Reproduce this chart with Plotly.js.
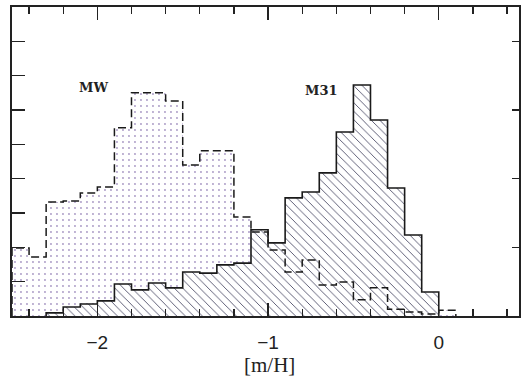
<!DOCTYPE html>
<html>
<head>
<meta charset="utf-8">
<script src="https://cdn.plot.ly/plotly-3.0.1.min.js"></script>
<style>html,body{margin:0;padding:0;background:#fff;}#chart{width:521px;height:381px;}</style>
</head>
<body>
<div id="chart"></div>
<script>
// MW metallicity histogram: bin left edges and counts (arbitrary units)
const mwBins = [-2.5,-2.4,-2.3,-2.2,-2.1,-2.0,-1.9,-1.8,-1.7,-1.6,-1.5,-1.4,-1.3,-1.2,-1.1,-1.0,-0.9,-0.8,-0.7,-0.6,-0.5,-0.4,-0.3,-0.2,-0.1,0.0];
const mwCounts = [19.8,17.2,33.2,33.5,35.8,37.6,54.8,65.0,65.0,62.6,44.0,48.1,48.1,28.8,24.5,19.2,12.8,16.3,9.0,9.9,4.7,8.2,2.0,1.2,0.6,1.7];
// M31 histogram
const m31Bins = [-2.3,-2.2,-2.1,-2.0,-1.9,-1.8,-1.7,-1.6,-1.5,-1.4,-1.3,-1.2,-1.1,-1.0,-0.9,-0.8,-0.7,-0.6,-0.5,-0.4,-0.3,-0.2,-0.1];
const m31Counts = [0.9,2.6,3.5,4.4,9.3,7.6,9.6,8.2,12.8,12.5,14.9,15.4,25.1,21.3,34.4,36.1,41.7,53.6,67.3,57.1,37.3,23.6,7.0];
const binWidth = 0.1;
const tickVals = [-2,-1,0];
const labels = {mw: 'MW', m31: 'M31', xTitle: '[m/H]'};

function steps(bins, counts){
  const x = [bins[0]], y = [0];
  for (let i=0;i<bins.length;i++){ x.push(bins[i]); y.push(counts[i]); }
  const end = +(bins[bins.length-1]+binWidth).toFixed(2);
  x.push(end); y.push(counts[counts.length-1]);
  x.push(end); y.push(0);
  return {x, y};
}
const mw = steps(mwBins, mwCounts);
const m31 = steps(m31Bins, m31Counts);

const traces = [
  {x: mw.x, y: mw.y, type:'scatter', mode:'lines', line:{shape:'hv', width:0, color:'rgba(0,0,0,0)'},
   fill:'tozeroy', fillcolor:'rgba(0,0,0,0)',
   fillpattern:{shape:'.', size:6, solidity:0.08, fgcolor:'#a898c4', bgcolor:'rgba(255,255,255,0)'}, hoverinfo:'skip'},
  {x: m31.x, y: m31.y, type:'scatter', mode:'lines', line:{shape:'hv', width:1.6, color:'#1a1a1a'},
   fill:'tozeroy', fillcolor:'white',
   fillpattern:{shape:'\\', size:6, solidity:0.15, fgcolor:'#50506a', bgcolor:'white'}},
  {x: mw.x, y: mw.y, type:'scatter', mode:'lines', line:{shape:'hv', width:1.5, color:'#1a1a1a', dash:'8px,4px'}},
  {x: [], y: [], yaxis:'y2', type:'scatter', mode:'lines'}
];

const layout = {
  width:521, height:381,
  margin:{l:12, r:2, t:7, b:65},
  paper_bgcolor:'white', plot_bgcolor:'white',
  showlegend:false,
  xaxis:{range:[-2.5,0.47], tickvals:tickVals, ticks:'inside', ticklen:13, tickwidth:1.3, tickcolor:'#222',
         minor:{dtick:0.2, tick0:0, ticks:'inside', ticklen:7, tickwidth:1.2, tickcolor:'#222'},
         showline:true, linecolor:'#222', linewidth:2, mirror:'ticks', showgrid:false, zeroline:false,
         ticklabelstandoff:8,
         tickfont:{family:'Liberation Sans, Arial, sans-serif', size:19, color:'#222'}},
  yaxis:{range:[0,90], dtick:10, ticks:'inside', ticklen:13, tickwidth:1.3, tickcolor:'#222',
         showticklabels:false, showline:true, linecolor:'#222', linewidth:2, mirror:true,
         showgrid:false, zeroline:false},
  yaxis2:{range:[0,90], dtick:20, overlaying:'y', side:'right', ticks:'inside', ticklen:7, tickwidth:1.3,
          tickcolor:'#222', showticklabels:false, showgrid:false, zeroline:false, showline:false},
  annotations:[
    {x:-2.02, y:66.7, text:'<b>'+labels.mw+'</b>', showarrow:false, font:{family:'DejaVu Serif, serif', size:13, color:'#222'}},
    {x:-0.69, y:65.8, text:'<b>'+labels.m31+'</b>', showarrow:false, font:{family:'DejaVu Serif, serif', size:13, color:'#222'}},
    {x:-0.99, xref:'x', y:-0.158, yref:'paper', yanchor:'middle', text:labels.xTitle, showarrow:false,
     font:{family:'Liberation Serif, serif', size:21, color:'#222'}}
  ]
};
Plotly.newPlot('chart', traces, layout, {staticPlot:true, displayModeBar:false});
</script>
</body>
</html>
